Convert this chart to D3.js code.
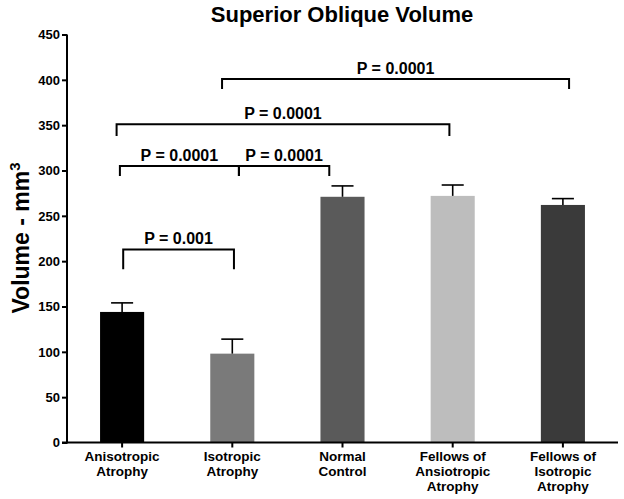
<!DOCTYPE html>
<html>
<head>
<meta charset="utf-8">
<script src="https://cdn.jsdelivr.net/npm/d3@7"></script>
<style>
  body { margin: 0; background: #fff; }
  text { font-family: "Liberation Sans", Arial, sans-serif; font-weight: bold; fill: #000; }
</style>
</head>
<body>
<div id="chart"></div>
<script>
// group names (each entry = label lines)
var categories = [
  ["Anisotropic", "Atrophy"],
  ["Isotropic", "Atrophy"],
  ["Normal", "Control"],
  ["Fellows of", "Ansiotropic", "Atrophy"],
  ["Fellows of", "Isotropic", "Atrophy"]
];
var means = [144, 98, 271, 272, 262];
var sems = [10, 16, 12, 12, 7];
var barColors = ["#000000", "#7a7a7a", "#5a5a5a", "#bdbdbd", "#3a3a3a"];
var yTicks = [0, 50, 100, 150, 200, 250, 300, 350, 400, 450];

// significance brackets: from/to are group positions, level/drop in mm3
var pLabels = ["P = 0.001", "P = 0.0001", "P = 0.0001", "P = 0.0001", "P = 0.0001"];
var bracketFrom = [0.01, -0.02, 1.06, -0.05, 0.907];
var bracketTo = [1.015, 1.06, 1.88, 2.97, 4.056];
var bracketLevel = [213, 305, 305, 351, 401];
var bracketDrop = [191, 294, 294, 338, 390];

var width = 624, height = 499;

var svg = d3.select("#chart").append("svg")
  .attr("width", width)
  .attr("height", height);

var ids = d3.range(categories.length);

var x = d3.scaleBand()
  .domain(ids)
  .range([67, 618])
  .paddingInner(0.6)
  .paddingOuter(0.3);

var y = d3.scaleLinear()
  .domain([0, 450])
  .range([442.5, 34.5]);

// continuous group position -> pixel, for the brackets
var xPos = d3.scaleLinear()
  .domain([0, categories.length - 1])
  .range([x(0) + x.bandwidth() / 2, x(categories.length - 1) + x.bandwidth() / 2]);

// title
svg.append("text")
  .attr("x", 342)
  .attr("y", 22)
  .attr("text-anchor", "middle")
  .style("font-size", "22px")
  .text("Superior Oblique Volume");

// y axis title
var yt = svg.append("text")
  .attr("transform", "translate(29,238) rotate(-90)")
  .attr("text-anchor", "middle")
  .style("font-size", "23px");
yt.append("tspan").text("Volume - mm");
yt.append("tspan").attr("dy", -9).style("font-size", "15px").text("3");

// bars
svg.selectAll("rect.bar")
  .data(means)
  .enter().append("rect")
  .attr("class", "bar")
  .attr("x", function (d, i) { return x(i); })
  .attr("y", function (d) { return y(d); })
  .attr("width", x.bandwidth())
  .attr("height", function (d) { return y(0) - y(d); })
  .style("fill", function (d, i) { return barColors[i]; });

// error bars (upper whisker only)
var err = svg.append("g").attr("stroke", "#000").attr("stroke-width", 1.6);
means.forEach(function (m, i) {
  var cx = x(i) + x.bandwidth() / 2;
  err.append("line")
    .attr("x1", cx).attr("x2", cx)
    .attr("y1", y(m)).attr("y2", y(m + sems[i]));
  err.append("line")
    .attr("x1", cx - x.bandwidth() / 4).attr("x2", cx + x.bandwidth() / 4)
    .attr("y1", y(m + sems[i])).attr("y2", y(m + sems[i]));
});

// y axis
var yAxis = svg.append("g")
  .attr("transform", "translate(67,0)")
  .call(d3.axisLeft(y).tickValues(yTicks).tickSize(5).tickPadding(2));
yAxis.select(".domain").attr("stroke-width", 2).attr("d", "M0," + y(450) + "V" + (y(0) + 1));
yAxis.selectAll(".tick line").attr("stroke-width", 2);
yAxis.selectAll(".tick text")
  .style("font-size", "13px")
  .style("font-family", "'Liberation Sans', Arial, sans-serif")
  .style("font-weight", "bold");

// x axis
var xAxis = svg.append("g")
  .attr("transform", "translate(0," + y(0) + ")")
  .call(d3.axisBottom(x).tickSize(5).tickSizeOuter(0).tickFormat(""));
xAxis.select(".domain").attr("stroke-width", 2).attr("d", "M62,0H618");
xAxis.selectAll(".tick line").attr("stroke-width", 2);

// multi-line category labels
categories.forEach(function (lines, i) {
  var t = svg.append("text")
    .attr("text-anchor", "middle")
    .style("font-size", "13.5px");
  lines.forEach(function (s, k) {
    t.append("tspan")
      .attr("x", x(i) + x.bandwidth() / 2)
      .attr("y", 461 + k * 15)
      .text(s);
  });
});

// significance brackets
var br = svg.append("g");
pLabels.forEach(function (lab, i) {
  var x1 = xPos(bracketFrom[i]), x2 = xPos(bracketTo[i]);
  var yl = y(bracketLevel[i]), yd = y(bracketDrop[i]);
  br.append("path")
    .attr("d", "M" + x1 + "," + yd + "V" + yl + "H" + x2 + "V" + yd)
    .attr("fill", "none")
    .attr("stroke", "#000")
    .attr("stroke-width", 2);
  br.append("text")
    .attr("x", (x1 + x2) / 2)
    .attr("y", yl - 5)
    .attr("text-anchor", "middle")
    .style("font-size", "16px")
    .text(lab);
});
</script>
</body>
</html>
